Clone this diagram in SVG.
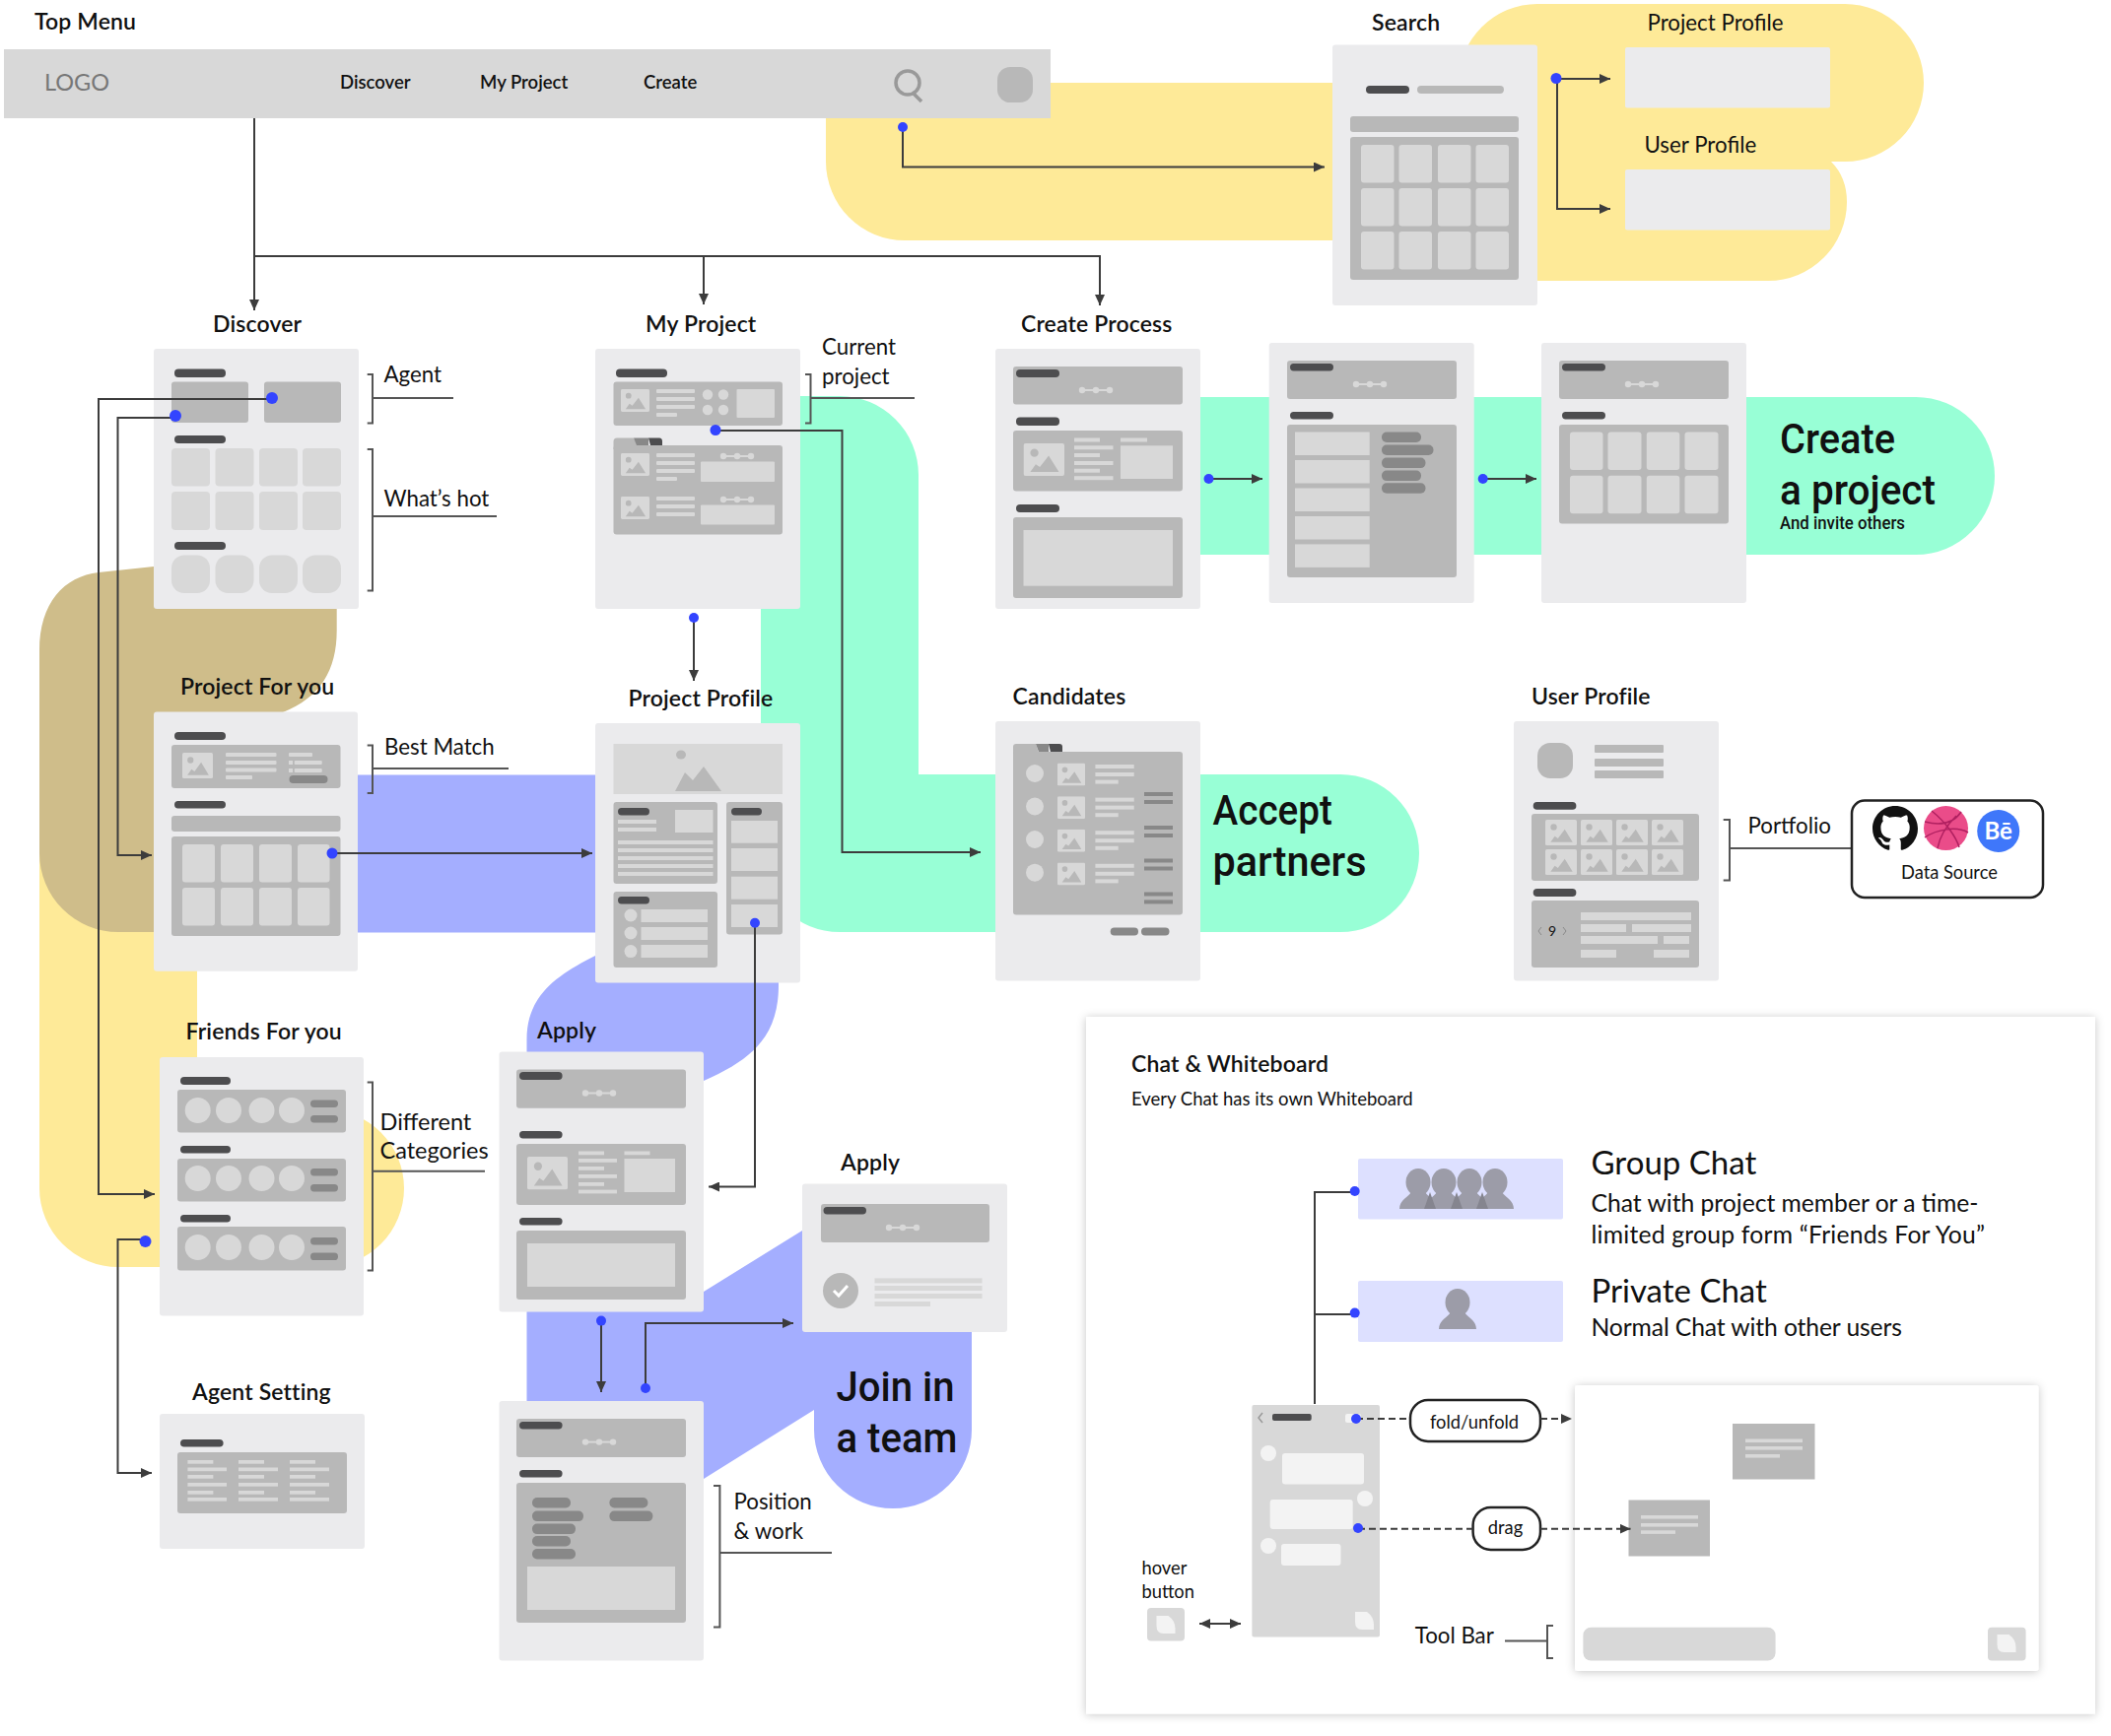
<svg xmlns="http://www.w3.org/2000/svg" width="2142" height="1762" viewBox="0 0 2142 1762">
<style>
text{font-family:"Lato","Noto Sans",sans-serif;fill:#111}
.h{font-size:23px;font-weight:600;letter-spacing:.15px}
.t{font-size:22.300px;font-weight:400}
.s{font-size:18.300px;font-weight:400}
.big{font-family:Roboto,"Noto Sans",sans-serif;font-size:43px;font-weight:500}
.c24{font-size:24.700px;font-weight:400}
.c33{font-size:33px;font-weight:400}
.nav{font-size:18.500px;font-weight:600}
.p{fill:#ebebed}
.c{fill:#b8b8b8}
.k{fill:#d8d8d8}
.b{fill:#4d4d4f}
.m{fill:#888}
.ln{fill:none;stroke:#3c3c3c;stroke-width:2}
.br{fill:none;stroke:#555;stroke-width:2}
.ds{fill:none;stroke:#3c3c3c;stroke-width:2;stroke-dasharray:7 4}
.dot{fill:#3344ff}
.yl{fill:#feea98}
.gr{fill:#98ffd6}
.pu{fill:#a4aeff}
.pill{fill:#fff;stroke:#222;stroke-width:2.500}
</style>
<defs>
<marker id="ar" markerUnits="userSpaceOnUse" markerWidth="12" markerHeight="10" refX="11" refY="5" orient="auto-start-reverse"><path d="M0 0L11 5L0 10Z" fill="#3c3c3c"/></marker>
<symbol id="th" viewBox="0 0 30 24" preserveAspectRatio="none"><rect width="30" height="24" rx="1.500" fill="#d8d8d8"/><ellipse cx="8" cy="7" rx="3" ry="3" fill="#b8b8b8"/><path d="M5 21L9 15.500L12 17.500L18.500 9L26 21Z" fill="#b8b8b8"/></symbol>
<g id="dd"><path d="M-14 0H14" stroke="#d8d8d8" stroke-width="2"/><circle cx="-14" r="3.200" fill="#d8d8d8"/><circle r="3.200" fill="#d8d8d8"/><circle cx="14" r="3.200" fill="#d8d8d8"/></g>
<g id="pp"><ellipse cy="14" rx="12.500" ry="14" fill="#9c9ca8"/><path d="M-19 41C-19 32-10 29-7 24H7C10 29 19 32 19 41Z" fill="#9c9ca8"/></g>
<g id="note"><path d="M0 0H12Q19 5 19 13V18H7Q0 18 0 10Z" fill="#f3f3f3"/></g>
<filter id="sh" x="-5%" y="-5%" width="110%" height="110%"><feDropShadow dx="0" dy="1" stdDeviation="5" flood-color="#000" flood-opacity="0.220"/></filter>
</defs>

<g id="backgrounds">
<path class="yl" d="M40 660H200V1126H330A80 80 0 0 1 330 1286H120A80 80 0 0 1 40 1206Z"/>
<path d="M40 660C40 612 65 585 100 581L156 575H341.700V640C341.700 680 325 708 287 723V946H120A80 80 0 0 1 40 866Z" fill="#cfbd8a"/>
<rect class="pu" x="360" y="786.500" width="250" height="160"/>
<path class="gr" d="M772 402H852A80 80 0 0 1 932 482V786H1360A80 80 0 0 1 1360 946H852A80 80 0 0 1 772 866Z"/>
<path class="gr" d="M1180 403H1944A80 80 0 0 1 1944 563H1180Z"/>
<path class="yl" d="M1100 84H1400V244H918A80 80 0 0 1 838 164V84Z"/>
<path class="yl" d="M1560 4H1872A80 80 0 0 1 1872 164H1858Q1874 180 1874 205A80 80 0 0 1 1794 285H1560A80 80 0 0 1 1480 205V84A80 80 0 0 1 1560 4Z"/>
<path class="pu" d="M534.500 1055C534.500 1010 565 990 604 970H790V1000C790 1050 765 1075 714 1097V1311L814 1249H986V1451A80 80 0 0 1 826 1451V1431L714 1501H534.500Z"/>
</g>

<g id="n-topmenu">
<text class="h" x="35" y="30">Top Menu</text>
<rect x="4" y="50" width="1062" height="70" class="k"/>
<text x="45" y="92" font-size="23.500" style="fill:#777">LOGO</text>
<text class="nav" x="345" y="90">Discover</text>
<text class="nav" x="487" y="90">My Project</text>
<text class="nav" x="653" y="90">Create</text>
<circle cx="921" cy="84" r="12" fill="none" stroke="#999" stroke-width="3.500"/><path d="M927 95L935 103" stroke="#999" stroke-width="3.500"/>
<rect x="1012" y="68" width="36" height="36" rx="13" class="c"/>
</g>

<g id="n-search">
<text class="h" x="1392" y="31">Search</text>
<rect class="p" x="1352" y="45.500" width="208" height="264.500" rx="3"/>
<rect class="b" x="1386" y="87" width="44" height="8" rx="4"/><rect class="c" x="1438" y="87" width="88" height="8" rx="4"/>
<rect class="c" x="1370" y="118" width="171" height="16" rx="3"/>
<rect class="c" x="1370" y="139" width="171" height="145" rx="3"/>
<g class="k">
<rect x="1381" y="147" width="33.500" height="38.500" rx="3"/><rect x="1419.500" y="147" width="33.500" height="38.500" rx="3"/><rect x="1459" y="147" width="33.500" height="38.500" rx="3"/><rect x="1497.500" y="147" width="33.500" height="38.500" rx="3"/>
<rect x="1381" y="191" width="33.500" height="38.500" rx="3"/><rect x="1419.500" y="191" width="33.500" height="38.500" rx="3"/><rect x="1459" y="191" width="33.500" height="38.500" rx="3"/><rect x="1497.500" y="191" width="33.500" height="38.500" rx="3"/>
<rect x="1381" y="235" width="33.500" height="38.500" rx="3"/><rect x="1419.500" y="235" width="33.500" height="38.500" rx="3"/><rect x="1459" y="235" width="33.500" height="38.500" rx="3"/><rect x="1497.500" y="235" width="33.500" height="38.500" rx="3"/>
</g>
</g>

<g id="n-search-results">
<text class="t" x="1671.500" y="31">Project Profile</text>
<rect class="p" x="1649" y="48" width="208" height="61.500" rx="2"/>
<text class="t" x="1668.500" y="155">User Profile</text>
<rect class="p" x="1649" y="172" width="208" height="61.500" rx="2"/>
</g>

<g id="n-discover">
<text class="h" x="216" y="337">Discover</text>
<rect class="p" x="156" y="354" width="208" height="264" rx="3"/>
<rect class="b" x="177" y="374.500" width="52" height="8.500" rx="4"/>
<rect class="c" x="174" y="387.500" width="78" height="41.500" rx="3"/><rect class="c" x="268" y="387.500" width="78" height="41.500" rx="3"/>
<rect class="b" x="177" y="442" width="52" height="8" rx="4"/>
<g class="k">
<rect x="174" y="455" width="39" height="38.500" rx="4"/><rect x="218.500" y="455" width="39" height="38.500" rx="4"/><rect x="263" y="455" width="39" height="38.500" rx="4"/><rect x="307" y="455" width="39" height="38.500" rx="4"/>
<rect x="174" y="499" width="39" height="39" rx="4"/><rect x="218.500" y="499" width="39" height="39" rx="4"/><rect x="263" y="499" width="39" height="39" rx="4"/><rect x="307" y="499" width="39" height="39" rx="4"/>
</g>
<rect class="b" x="177" y="550" width="52" height="8" rx="4"/>
<g class="k">
<rect x="174" y="563.500" width="39" height="38.500" rx="13"/><rect x="218.500" y="563.500" width="39" height="38.500" rx="13"/><rect x="263" y="563.500" width="39" height="38.500" rx="13"/><rect x="307" y="563.500" width="39" height="38.500" rx="13"/>
</g>
<path class="br" d="M372.700 380H378V429.500H372.700M378 404H460M372.700 456H378V599.500H372.700M378 524H504"/>
<text class="t" x="389.500" y="388">Agent</text>
<text class="t" x="389.500" y="514">What’s hot</text>
</g>

<g id="n-myproject">
<text class="h" x="655" y="337">My Project</text>
<rect class="p" x="604" y="354" width="208" height="264" rx="3"/>
<rect class="b" x="625" y="374.500" width="52" height="8.500" rx="4"/>
<rect class="c" x="622.500" y="387.500" width="171.500" height="44.500" rx="3"/>
<use href="#th" x="630" y="395" width="29" height="23"/>
<g class="k">
<rect x="666" y="395" width="39" height="4" rx="1"/><rect x="666" y="403" width="39" height="4" rx="1"/><rect x="666" y="411" width="39" height="4" rx="1"/><rect x="666" y="419" width="21" height="4" rx="1"/>
<circle cx="718" cy="400.500" r="5.200"/><circle cx="734" cy="400.500" r="5.200"/><circle cx="718" cy="416" r="5.200"/><circle cx="734" cy="416" r="5.200"/>
<rect x="747.500" y="395" width="38.500" height="29" rx="1"/>
</g>
<path class="c" d="M622.500 456V448Q622.500 444.500 626 444.500H643L650 456Z"/><path class="m" d="M643 444.500H658V452H646Z"/><path class="b" d="M658 444.500H669Q672 444.500 672 448V452H660Z"/>
<rect class="c" x="622.500" y="452" width="171.500" height="90.500" rx="3"/>
<use href="#th" x="630" y="460" width="29" height="23"/>
<use href="#th" x="630" y="504" width="29" height="23"/>
<g class="k">
<rect x="666" y="460" width="39" height="4" rx="1"/><rect x="666" y="468" width="39" height="4" rx="1"/><rect x="666" y="476" width="39" height="4" rx="1"/><rect x="666" y="484" width="21" height="4" rx="1"/>
<rect x="711" y="468.500" width="75" height="20.500" rx="1"/>
<rect x="666" y="504" width="39" height="4" rx="1"/><rect x="666" y="512" width="39" height="4" rx="1"/><rect x="666" y="520" width="39" height="4" rx="1"/>
<rect x="711" y="512.500" width="75" height="20" rx="1"/>
</g>
<use href="#dd" x="748" y="463"/><use href="#dd" x="748" y="507"/>
<path class="br" d="M817 380H822.500V429.500H817M822.500 404H928"/>
<text class="t" x="834" y="360">Current</text>
<text class="t" x="834" y="390">project</text>
</g>

<g id="n-create1">
<text class="h" x="1036" y="337">Create Process</text>
<rect class="p" x="1010" y="354" width="208" height="264" rx="3"/>
<rect class="c" x="1028" y="372" width="172" height="38.500" rx="3"/>
<rect class="b" x="1031" y="375" width="44" height="8" rx="4"/>
<use href="#dd" x="1112" y="396"/>
<rect class="b" x="1031" y="423.500" width="44" height="8.500" rx="4"/>
<rect class="c" x="1028" y="437" width="172" height="61.500" rx="3"/>
<use href="#th" x="1038.500" y="450" width="41.500" height="33"/>
<g class="k">
<rect x="1090" y="444.500" width="26" height="4"/><rect x="1090" y="452.300" width="39.500" height="4"/><rect x="1090" y="460" width="26" height="4"/><rect x="1090" y="468" width="39.500" height="4"/><rect x="1090" y="475.700" width="26" height="4"/><rect x="1090" y="483.200" width="39.500" height="4"/>
<rect x="1137" y="444.500" width="27" height="4"/><rect x="1137" y="452.300" width="53" height="33.700"/>
</g>
<rect class="b" x="1031" y="512" width="44" height="8" rx="4"/>
<rect class="c" x="1028" y="525" width="172" height="82" rx="3"/>
<rect class="k" x="1038.500" y="538" width="151.500" height="56.700"/>
</g>

<g id="n-create2">
<rect class="p" x="1287.700" y="348" width="208" height="264" rx="3"/>
<rect class="c" x="1306" y="366" width="172" height="39" rx="3"/>
<rect class="b" x="1309" y="369" width="44" height="7.500" rx="3.700"/>
<use href="#dd" x="1390" y="390"/>
<rect class="b" x="1309" y="418" width="44" height="7.500" rx="3.700"/>
<rect class="c" x="1306" y="431" width="172" height="155" rx="3"/>
<g class="k">
<rect x="1314" y="438.500" width="75.700" height="23.500"/><rect x="1314" y="467" width="75.700" height="23.500"/><rect x="1314" y="495.500" width="75.700" height="23.500"/><rect x="1314" y="524" width="75.700" height="23.500"/><rect x="1314" y="552.400" width="75.700" height="23.500"/>
</g>
<g class="m">
<rect x="1402" y="438.500" width="40" height="10.500" rx="5"/><rect x="1402" y="451.500" width="52.500" height="10.500" rx="5"/><rect x="1402" y="464.600" width="44.500" height="10.500" rx="5"/><rect x="1402" y="477.600" width="40" height="10.500" rx="5"/><rect x="1402" y="490.300" width="44.500" height="10.500" rx="5"/>
</g>
</g>

<g id="n-create3">
<rect class="p" x="1564" y="348" width="208" height="264" rx="3"/>
<rect class="c" x="1582" y="366" width="172" height="39" rx="3"/>
<rect class="b" x="1585" y="369" width="44" height="7.500" rx="3.700"/>
<use href="#dd" x="1666" y="390"/>
<rect class="b" x="1585" y="418" width="44" height="7.500" rx="3.700"/>
<rect class="c" x="1582" y="431" width="172" height="100.500" rx="3"/>
<g class="k">
<rect x="1593" y="438.500" width="33.500" height="38.500" rx="3"/><rect x="1631.500" y="438.500" width="34" height="38.500" rx="3"/><rect x="1670.800" y="438.500" width="33.500" height="38.500" rx="3"/><rect x="1709.500" y="438.500" width="34" height="38.500" rx="3"/>
<rect x="1593" y="482.800" width="33.500" height="38.500" rx="3"/><rect x="1631.500" y="482.800" width="34" height="38.500" rx="3"/><rect x="1670.800" y="482.800" width="33.500" height="38.500" rx="3"/><rect x="1709.500" y="482.800" width="34" height="38.500" rx="3"/>
</g>
<text class="big" x="1806" y="459.500" textLength="117" lengthAdjust="spacingAndGlyphs">Create</text>
<text class="big" x="1806" y="511.500" textLength="158" lengthAdjust="spacingAndGlyphs">a project</text>
<text x="1806" y="537" font-family="Roboto" font-size="18" font-weight="500" style="font-family:Roboto,sans-serif" textLength="127" lengthAdjust="spacingAndGlyphs">And invite others</text>
</g>

<g id="n-projectforyou">
<text class="h" x="183" y="705">Project For you</text>
<rect class="p" x="156" y="722.400" width="207" height="263.400" rx="3"/>
<rect class="b" x="177" y="743" width="52" height="8" rx="4"/>
<rect class="c" x="174" y="756" width="171.500" height="44" rx="3"/>
<use href="#th" x="185" y="764" width="31" height="26"/>
<g class="k">
<rect x="229" y="764" width="51.500" height="4" rx="1"/><rect x="229" y="772" width="51.500" height="4" rx="1"/><rect x="229" y="779.500" width="51.500" height="4" rx="1"/><rect x="229" y="787" width="27" height="4" rx="1"/>
<rect x="293" y="764" width="24" height="4" rx="1"/><rect x="293" y="772" width="4" height="4"/><rect x="298.700" y="772" width="28" height="4" rx="1"/><rect x="293" y="780" width="4" height="4"/><rect x="298.700" y="780" width="28" height="4" rx="1"/>
</g>
<rect class="m" x="293.500" y="787" width="39" height="8" rx="4"/>
<rect class="b" x="177" y="813" width="52" height="7.500" rx="3.700"/>
<rect class="c" x="174" y="828" width="171.500" height="16" rx="3"/>
<rect class="c" x="174" y="849" width="171.500" height="101" rx="3"/>
<g class="k">
<rect x="185" y="857" width="33" height="38.600" rx="3"/><rect x="224" y="857" width="33" height="38.600" rx="3"/><rect x="263" y="857" width="33" height="38.600" rx="3"/><rect x="302" y="857" width="32.500" height="38.600" rx="3"/>
<rect x="185" y="901" width="33" height="38.500" rx="3"/><rect x="224" y="901" width="33" height="38.500" rx="3"/><rect x="263" y="901" width="33" height="38.500" rx="3"/><rect x="302" y="901" width="32.500" height="38.500" rx="3"/>
</g>
<path class="br" d="M372.700 756.400H378V805H372.700M378 780H516"/>
<text class="t" x="390" y="766">Best Match</text>
</g>

<g id="n-projectprofile">
<text class="h" x="637.500" y="717">Project Profile</text>
<rect class="p" x="604" y="734" width="208" height="263.600" rx="3"/>
<rect class="k" x="622.500" y="755" width="171.500" height="51"/>
<ellipse cx="691" cy="766" rx="5" ry="4.500" class="c"/><path class="c" d="M685 803L695 784L703 792L714 778L732 803Z"/>
<rect class="c" x="622.500" y="814" width="105.500" height="83" rx="3"/>
<rect class="b" x="627" y="820" width="32" height="7.500" rx="3.700"/>
<g class="k">
<rect x="685" y="822" width="38.500" height="23"/><rect x="627" y="832" width="39" height="4"/><rect x="627" y="840" width="39" height="4"/>
<rect x="627" y="853" width="96.500" height="4"/><rect x="627" y="861" width="96.500" height="4"/><rect x="627" y="869" width="96.500" height="4"/><rect x="627" y="877" width="96.500" height="4"/><rect x="627" y="885" width="96.500" height="4"/>
</g>
<rect class="c" x="737" y="814" width="57" height="134.600" rx="3"/>
<rect class="b" x="742" y="820" width="31" height="7.500" rx="3.700"/>
<g class="k">
<rect x="742" y="833" width="47" height="22.700"/><rect x="742" y="861" width="47" height="23"/><rect x="742" y="889.700" width="47" height="23"/><rect x="742" y="918" width="47" height="23"/>
</g>
<rect class="c" x="622.500" y="905" width="105.500" height="77" rx="3"/>
<rect class="b" x="627" y="910" width="32" height="7.500" rx="3.700"/>
<g class="k">
<circle cx="640" cy="929" r="6.500"/><circle cx="640" cy="947" r="6.500"/><circle cx="640" cy="965.600" r="6.500"/>
<rect x="650.500" y="923" width="67.500" height="13"/><rect x="650.500" y="941" width="67.500" height="13"/><rect x="650.500" y="959" width="67.500" height="13"/>
</g>
</g>

<g id="n-candidates">
<text class="h" x="1027.500" y="715">Candidates</text>
<rect class="p" x="1010" y="732" width="208" height="263.600" rx="3"/>
<path class="c" d="M1028 770V758Q1028 755 1031 755H1051L1056 770Z"/><path class="m" d="M1051 755H1064V763H1054Z"/><path class="b" d="M1064 755H1075Q1078 755 1078 758V763H1066Z"/>
<rect class="c" x="1028" y="763" width="172" height="165.400" rx="3"/>
<g class="k">
<circle cx="1050" cy="785" r="9"/><circle cx="1050" cy="818.500" r="9"/><circle cx="1050" cy="852" r="9"/><circle cx="1050" cy="885.700" r="9"/>
<rect x="1111.400" y="776" width="39.300" height="4"/><rect x="1111.400" y="784" width="39.300" height="4"/><rect x="1111.400" y="791.600" width="23.300" height="4"/>
<rect x="1111.400" y="809.600" width="39.300" height="4"/><rect x="1111.400" y="817.600" width="39.300" height="4"/><rect x="1111.400" y="825.200" width="23.300" height="4"/>
<rect x="1111.400" y="843.200" width="39.300" height="4"/><rect x="1111.400" y="851.200" width="39.300" height="4"/><rect x="1111.400" y="858.800" width="23.300" height="4"/>
<rect x="1111.400" y="876.800" width="39.300" height="4"/><rect x="1111.400" y="884.800" width="39.300" height="4"/><rect x="1111.400" y="892.400" width="23.300" height="4"/>
</g>
<use href="#th" x="1073" y="774.600" width="28" height="23"/><use href="#th" x="1073" y="808.200" width="28" height="23"/><use href="#th" x="1073" y="841.800" width="28" height="23"/><use href="#th" x="1073" y="875.400" width="28" height="23"/>
<g class="m">
<rect x="1161" y="804" width="29" height="4"/><rect x="1161" y="812" width="29" height="4"/><rect x="1161" y="838" width="29" height="4"/><rect x="1161" y="846" width="29" height="4"/><rect x="1161" y="871.500" width="29" height="4"/><rect x="1161" y="879.500" width="29" height="4"/><rect x="1161" y="905.500" width="29" height="4"/><rect x="1161" y="913.400" width="29" height="4"/>
<rect x="1126.700" y="941.500" width="28.300" height="8" rx="4"/><rect x="1158" y="941.500" width="28.500" height="8" rx="4"/>
</g>
<text class="big" x="1230.500" y="837" textLength="121.500" lengthAdjust="spacingAndGlyphs">Accept</text>
<text class="big" x="1230.500" y="889" textLength="156" lengthAdjust="spacingAndGlyphs">partners</text>
</g>

<g id="n-userprofile">
<text class="h" x="1554" y="715">User Profile</text>
<rect class="p" x="1536" y="732" width="208" height="263.600" rx="3"/>
<rect class="c" x="1560" y="754" width="36" height="36" rx="13"/>
<rect class="c" x="1618" y="756" width="70" height="8" rx="1"/><rect class="c" x="1618" y="770" width="70" height="8" rx="1"/><rect class="c" x="1618" y="782" width="70" height="8" rx="1"/>
<rect class="b" x="1555.700" y="814" width="43.700" height="7.700" rx="3.800"/>
<rect class="c" x="1554" y="826" width="170" height="68" rx="3"/>
<use href="#th" x="1568" y="832" width="32" height="26"/><use href="#th" x="1604" y="832" width="32" height="26"/><use href="#th" x="1640" y="832" width="32" height="26"/><use href="#th" x="1676" y="832" width="32" height="26"/>
<use href="#th" x="1568" y="862" width="32" height="26"/><use href="#th" x="1604" y="862" width="32" height="26"/><use href="#th" x="1640" y="862" width="32" height="26"/><use href="#th" x="1676" y="862" width="32" height="26"/>
<rect class="b" x="1555.700" y="902" width="43.700" height="8" rx="4"/>
<rect class="c" x="1554" y="914" width="170" height="68" rx="3"/>
<path d="M1564 941L1561 945L1564 949M1586 941L1589 945L1586 949" fill="none" stroke="#8a8a8a" stroke-width="1"/>
<text x="1571" y="950" font-size="14" font-weight="400">9</text>
<g class="k">
<rect x="1604" y="926" width="112" height="8"/><rect x="1604" y="938" width="46" height="8"/><rect x="1656" y="938" width="60" height="8"/><rect x="1604" y="950" width="78" height="8"/><rect x="1688" y="950" width="26" height="8"/><rect x="1604" y="964" width="36" height="8"/><rect x="1678" y="964" width="36" height="8"/>
</g>
<path class="br" d="M1748.700 832H1755V893.600H1748.700M1755 861H1879"/>
<text class="t" x="1773.500" y="846">Portfolio</text>
</g>

<g id="n-datasource">
<rect class="pill" x="1879" y="812.600" width="194" height="98.400" rx="13"/>
<path transform="translate(1900 818) scale(2.875)" fill="#111" d="M8 0C3.580 0 0 3.580 0 8c0 3.540 2.290 6.530 5.470 7.590.4.070.55-.17.55-.38 0-.19-.01-.82-.01-1.490-2.010.37-2.530-.49-2.690-.94-.09-.23-.48-.94-.82-1.130-.28-.15-.68-.52-.01-.53.63-.01 1.080.58 1.230.82.720 1.210 1.870.87 2.330.66.070-.52.28-.87.51-1.070-1.780-.2-3.640-.89-3.640-3.950 0-.87.31-1.590.82-2.150-.08-.2-.36-1.020.08-2.120 0 0 .67-.21 2.200.82.64-.18 1.320-.27 2-.27.68 0 1.360.09 2 .27 1.530-1.040 2.200-.82 2.200-.82.44 1.100.16 1.920.08 2.120.51.56.82 1.270.82 2.150 0 3.070-1.870 3.750-3.650 3.950.29.25.54.73.54 1.480 0 1.070-.01 1.930-.01 2.200 0 .21.15.46.55.38A8.013 8.013 0 0016 8c0-4.420-3.580-8-8-8z"/>
<circle cx="1974.500" cy="840.600" r="22.500" fill="#ea4c89"/>
<path d="M1960 823C1975 835 1985 850 1988 860M1953 834C1968 838 1982 836 1990 824M1953 850C1965 842 1985 838 1997 845M1966 861C1968 850 1975 838 1985 828" fill="none" stroke="#b02060" stroke-width="1.500"/>
<circle cx="2027.700" cy="843.500" r="21.500" fill="#3f77fa"/>
<text x="2027.700" y="852" font-size="24" font-weight="700" text-anchor="middle" style="fill:#fff">Bē</text>
<text class="s" x="1929" y="892">Data Source</text>
</g>

<g id="n-friends">
<text class="h" x="188.500" y="1055">Friends For you</text>
<rect class="p" x="162" y="1073" width="207" height="262.600" rx="3"/>
<rect class="b" x="183" y="1093" width="51" height="8" rx="4"/>
<rect class="c" x="180" y="1106" width="171" height="43.600" rx="3"/>
<rect class="b" x="183" y="1163" width="51" height="7.500" rx="3.700"/>
<rect class="c" x="180" y="1176" width="171" height="43.500" rx="3"/>
<rect class="b" x="183" y="1233" width="51" height="7.500" rx="3.700"/>
<rect class="c" x="180" y="1245" width="171" height="44.500" rx="3"/>
<g class="k">
<circle cx="200.700" cy="1127" r="13"/><circle cx="232" cy="1127" r="13"/><circle cx="265.500" cy="1127" r="13"/><circle cx="296" cy="1127" r="13"/>
<circle cx="200.700" cy="1196" r="13"/><circle cx="232" cy="1196" r="13"/><circle cx="265.500" cy="1196" r="13"/><circle cx="296" cy="1196" r="13"/>
<circle cx="200.700" cy="1266" r="13"/><circle cx="232" cy="1266" r="13"/><circle cx="265.500" cy="1266" r="13"/><circle cx="296" cy="1266" r="13"/>
</g>
<g class="m">
<rect x="315" y="1116.400" width="28" height="7.500" rx="3.700"/><rect x="315" y="1132" width="28" height="7.500" rx="3.700"/><rect x="315" y="1186" width="28" height="7.500" rx="3.700"/><rect x="315" y="1202" width="28" height="7.500" rx="3.700"/><rect x="315" y="1256" width="28" height="7.500" rx="3.700"/><rect x="315" y="1271.600" width="28" height="7.500" rx="3.700"/>
</g>
<path class="br" d="M372.700 1098.500H378V1289.500H372.700M378 1188.700H492"/>
<text x="385.500" y="1147" font-size="23.500">Different</text>
<text x="385.500" y="1176" font-size="23.500">Categories</text>
</g>

<g id="n-agentsetting">
<text class="h" x="195" y="1421">Agent Setting</text>
<rect class="p" x="162" y="1435" width="208" height="137" rx="3"/>
<rect class="b" x="183" y="1461" width="43.600" height="7.600" rx="3.800"/>
<rect class="c" x="180" y="1474" width="172" height="62" rx="3"/>
<g class="k">
<rect x="190.400" y="1482" width="26" height="3.700"/><rect x="190.400" y="1489.500" width="39.600" height="3.700"/><rect x="190.400" y="1497" width="26" height="3.700"/><rect x="190.400" y="1505" width="39.600" height="3.700"/><rect x="190.400" y="1513" width="26" height="3.700"/><rect x="190.400" y="1520" width="39.600" height="3.700"/>
<rect x="242" y="1482" width="26" height="3.700"/><rect x="242" y="1489.500" width="40" height="3.700"/><rect x="242" y="1497" width="26" height="3.700"/><rect x="242" y="1505" width="40" height="3.700"/><rect x="242" y="1513" width="26" height="3.700"/><rect x="242" y="1520" width="40" height="3.700"/>
<rect x="294" y="1482" width="26" height="3.700"/><rect x="294" y="1489.500" width="40" height="3.700"/><rect x="294" y="1497" width="26" height="3.700"/><rect x="294" y="1505" width="40" height="3.700"/><rect x="294" y="1513" width="26" height="3.700"/><rect x="294" y="1520" width="40" height="3.700"/>
</g>
</g>

<g id="n-apply1">
<text class="h" x="545" y="1054">Apply</text>
<rect class="p" x="506.500" y="1067.600" width="207.500" height="263.800" rx="3"/>
<rect class="c" x="524" y="1085.600" width="172" height="39.100" rx="3"/>
<rect class="b" x="527" y="1088" width="43.600" height="8" rx="4"/>
<use href="#dd" x="608" y="1109.500"/>
<rect class="b" x="527" y="1148" width="43.600" height="7.500" rx="3.700"/>
<rect class="c" x="524" y="1161" width="172" height="62" rx="3"/>
<use href="#th" x="535" y="1174" width="41" height="33.600"/>
<g class="k">
<rect x="587" y="1168.500" width="26" height="3.800"/><rect x="587" y="1176" width="39" height="3.800"/><rect x="587" y="1184" width="26" height="3.800"/><rect x="587" y="1192" width="39" height="3.800"/><rect x="587" y="1200" width="26" height="3.800"/><rect x="587" y="1207.600" width="39" height="3.800"/>
<rect x="633.500" y="1168.500" width="26" height="3.800"/><rect x="633.500" y="1176" width="51.500" height="34"/>
</g>
<rect class="b" x="527" y="1236" width="43.600" height="7.500" rx="3.700"/>
<rect class="c" x="524" y="1249" width="172" height="70" rx="3"/>
<rect class="k" x="535" y="1262" width="150" height="44"/>
</g>

<g id="n-apply2">
<text class="h" x="853" y="1188">Apply</text>
<rect class="p" x="814" y="1201.600" width="208" height="150.400" rx="3"/>
<rect class="c" x="833" y="1222" width="171" height="39" rx="3"/>
<rect class="b" x="835.500" y="1225" width="43.500" height="7.500" rx="3.700"/>
<use href="#dd" x="916" y="1246"/>
<circle class="c" cx="853" cy="1310" r="18"/>
<path d="M846 1310L851 1315L860 1305" fill="none" stroke="#fff" stroke-width="3"/>
<g class="k">
<rect x="887.500" y="1297.400" width="109" height="5"/><rect x="887.500" y="1305" width="109" height="5"/><rect x="887.500" y="1313" width="109" height="5"/><rect x="887.500" y="1321" width="56.500" height="5"/>
</g>
<text class="big" x="848.500" y="1422" textLength="120" lengthAdjust="spacingAndGlyphs">Join in</text>
<text class="big" x="848.500" y="1474" textLength="123" lengthAdjust="spacingAndGlyphs">a team</text>
</g>

<g id="n-position">
<rect class="p" x="506.500" y="1422" width="207.500" height="263.500" rx="3"/>
<rect class="c" x="524" y="1440" width="172" height="39" rx="3"/>
<rect class="b" x="527" y="1443" width="43.600" height="7.500" rx="3.700"/>
<use href="#dd" x="608" y="1463.600"/>
<rect class="b" x="527" y="1492" width="43.600" height="7.500" rx="3.700"/>
<rect class="c" x="524" y="1505" width="172" height="142" rx="3"/>
<g class="m">
<rect x="540" y="1520" width="39" height="10.500" rx="5"/><rect x="540" y="1533.600" width="52" height="10.500" rx="5"/><rect x="540" y="1546.600" width="44" height="10.500" rx="5"/><rect x="540" y="1559" width="39" height="10.500" rx="5"/><rect x="540" y="1572" width="44" height="10.500" rx="5"/>
<rect x="618.400" y="1520" width="39" height="10.500" rx="5"/><rect x="618.400" y="1533.600" width="44" height="10.500" rx="5"/>
</g>
<rect class="k" x="535" y="1590" width="150" height="44"/>
<path class="br" d="M724 1508H730.400V1651.400H724M730.400 1576H844"/>
<text class="t" x="744.500" y="1532">Position</text>
<text class="t" x="744.500" y="1562">&amp; work</text>
</g>

<g id="n-chat">
<rect x="1102" y="1032" width="1024" height="707.500" fill="#fff" filter="url(#sh)"/>
<text class="h" x="1148" y="1088">Chat &amp; Whiteboard</text>
<text x="1148" y="1122" font-size="18.500">Every Chat has its own Whiteboard</text>
<rect x="1378" y="1176" width="208" height="61.600" fill="#dde0ff" rx="2"/>
<use href="#pp" x="1439" y="1186"/><use href="#pp" x="1465" y="1186"/><use href="#pp" x="1491" y="1186"/><use href="#pp" x="1517" y="1186"/>
<path d="M1445 1227L1451 1210L1457 1227ZM1472 1227L1478 1210L1484 1227ZM1498 1227L1504 1210L1510 1227Z" fill="#85858f"/>
<rect x="1378" y="1300" width="208" height="62" fill="#dde0ff" rx="2"/>
<use href="#pp" x="1479" y="1308"/>
<text class="c33" x="1614.500" y="1192">Group Chat</text>
<text class="c24" x="1614.500" y="1230" textLength="393">Chat with project member or a time-</text>
<text class="c24" x="1614.500" y="1262" textLength="399.500">limited group form “Friends For You”</text>
<text class="c33" x="1614.500" y="1322">Private Chat</text>
<text class="c24" x="1614.500" y="1356" textLength="315.500">Normal Chat with other users</text>
<rect x="1270.400" y="1426" width="129.600" height="235.400" class="k" rx="2"/>
<path d="M1281 1434L1277 1439L1281 1444" fill="none" stroke="#999" stroke-width="1.500"/>
<rect class="b" x="1291" y="1435" width="39.700" height="7" rx="2"/>
<rect x="1365" y="1435" width="16" height="9" fill="#f3f3f3" rx="2"/>
<g fill="#f3f3f3">
<circle cx="1287" cy="1475" r="8"/><rect x="1301" y="1475" width="83" height="31.500" rx="3"/>
<circle cx="1385" cy="1521" r="8"/><rect x="1288.700" y="1522" width="84" height="30" rx="3"/>
<circle cx="1287" cy="1569" r="8"/><rect x="1300" y="1567" width="60.500" height="22" rx="3"/>
</g>
<use href="#note" x="1375" y="1636"/>
<rect x="1598" y="1406" width="470.500" height="290" fill="#fff" rx="3" filter="url(#sh)"/>
<rect class="c" x="1758" y="1445" width="83.500" height="56.500"/>
<g class="k"><rect x="1771" y="1460.500" width="58" height="3.600"/><rect x="1771" y="1468" width="58" height="3.600"/><rect x="1771" y="1476" width="35" height="3.600"/></g>
<rect class="c" x="1652.500" y="1522.500" width="82.500" height="57"/>
<g class="k"><rect x="1665" y="1538" width="58" height="3.600"/><rect x="1665" y="1546" width="58" height="3.600"/><rect x="1665" y="1553.300" width="35" height="3.600"/></g>
<rect class="k" x="1606.400" y="1651.700" width="195.200" height="33.800" rx="8"/>
<rect class="k" x="2017" y="1651.700" width="38.600" height="33.800" rx="4"/>
<use href="#note" x="2026.500" y="1659"/>
<rect class="k" x="1164" y="1632" width="38" height="33.600" rx="4"/>
<use href="#note" x="1173.500" y="1640"/>
<text class="s" x="1158.500" y="1598">hover</text>
<text class="s" x="1158.500" y="1622">button</text>
<text class="t" x="1435.700" y="1667.500">Tool Bar</text>
<path class="br" d="M1527 1665.600H1570M1576 1650H1570V1683H1576"/>
</g>

<g id="n-labels">
<rect class="pill" x="1431" y="1421" width="132" height="42" rx="18"/>
<text class="s" x="1496" y="1450" text-anchor="middle">fold/unfold</text>
<rect class="pill" x="1494.600" y="1530" width="68.400" height="43" rx="18"/>
<text class="s" x="1527.500" y="1557" text-anchor="middle">drag</text>
</g>

<g id="connectors">
<path class="ln" d="M258 120V315" marker-end="url(#ar)"/>
<path class="ln" d="M258 260H1116V310" marker-end="url(#ar)"/>
<path class="ln" d="M714 260V309" marker-end="url(#ar)"/>
<path class="ln" d="M916 129V169.500H1344" marker-end="url(#ar)"/>
<path class="ln" d="M1580 80H1634" marker-end="url(#ar)"/>
<path class="ln" d="M1580 80V212H1634" marker-end="url(#ar)"/>
<path class="ln" d="M276 405H100V1212H157" marker-end="url(#ar)"/>
<path class="ln" d="M178 424H119.500V868H154" marker-end="url(#ar)"/>
<path class="ln" d="M726 437H854.500V865H995" marker-end="url(#ar)"/>
<path class="ln" d="M704 627V691" marker-end="url(#ar)"/>
<path class="ln" d="M337 866H601" marker-end="url(#ar)"/>
<path class="ln" d="M1227 486H1281" marker-end="url(#ar)"/>
<path class="ln" d="M1505 486H1559" marker-end="url(#ar)"/>
<path class="ln" d="M766 937V1204.500H719" marker-end="url(#ar)"/>
<path class="ln" d="M147 1258H119.500V1495H154" marker-end="url(#ar)"/>
<path class="ln" d="M610 1341V1413" marker-end="url(#ar)"/>
<path class="ln" d="M655 1409V1343H805" marker-end="url(#ar)"/>
<path class="ln" d="M1375 1210H1334V1425M1334 1334H1375"/>
<path class="ds" d="M1376 1440H1431"/>
<path class="ds" d="M1563 1440H1595" marker-end="url(#ar)"/>
<path class="ds" d="M1378 1551.700H1494.600"/>
<path class="ds" d="M1563 1551.700H1654.500" marker-end="url(#ar)"/>
<path class="ln" d="M1217 1648H1259" marker-start="url(#ar)" marker-end="url(#ar)"/>
<g class="dot">
<circle cx="276" cy="404" r="6"/><circle cx="178" cy="422" r="6"/><circle cx="726" cy="436.500" r="5.500"/><circle cx="916" cy="129" r="5"/><circle cx="1579" cy="79.500" r="5.500"/><circle cx="704" cy="627" r="5"/><circle cx="337" cy="866" r="5.500"/><circle cx="1226.500" cy="486" r="5"/><circle cx="1504.700" cy="486" r="5"/><circle cx="766" cy="936.700" r="5"/><circle cx="147.500" cy="1260" r="6"/><circle cx="610" cy="1340.600" r="5"/><circle cx="655" cy="1409" r="5"/><circle cx="1374.700" cy="1209" r="5"/><circle cx="1374.700" cy="1332.600" r="5"/><circle cx="1376" cy="1440" r="5"/><circle cx="1378" cy="1551" r="5"/>
</g>
</g>
</svg>
